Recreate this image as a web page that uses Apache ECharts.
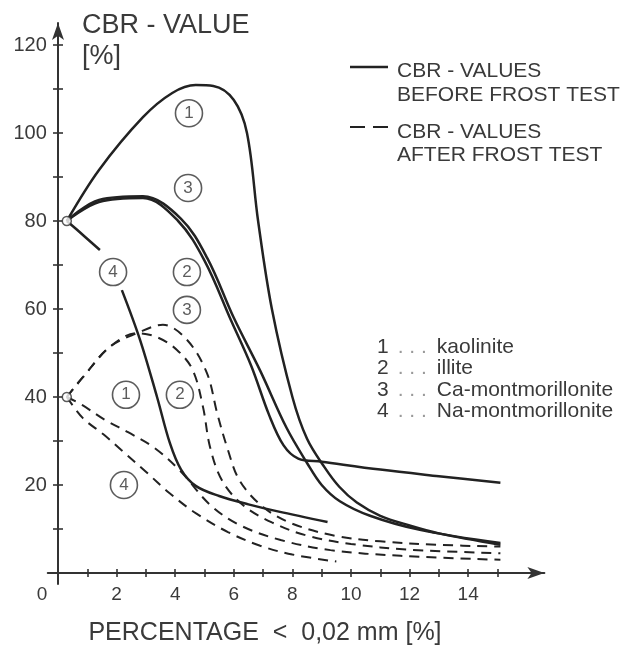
<!DOCTYPE html>
<html>
<head>
<meta charset="utf-8">
<script src="https://cdn.jsdelivr.net/npm/echarts@6/dist/echarts.min.js"></script>
<style>
  html, body { margin: 0; padding: 0; background: #fff; }
  #chart { width: 631px; height: 649px; }
</style>
</head>
<body>
<div id="chart"></div>
<script>
// Axis ticks and labels
const xTickValues = [1, 2, 3, 4, 5, 6, 7, 8, 9, 10, 11, 12, 13, 14, 15];
const xLabelValues = [0, 2, 4, 6, 8, 10, 12, 14];
const yTickValues = [10, 20, 30, 40, 50, 60, 70, 80, 90, 100, 110, 120];
const yLabelValues = [20, 40, 60, 80, 100, 120];

// CBR values before frost test (solid) — [percentage < 0.02 mm, CBR %]
const kaoliniteBefore = [[0.3, 80], [1.4, 91.6], [2.9, 103.6], [3.9, 109.1], [4.7, 110.9], [5.3, 110.7], [6.0, 107.5], [6.45, 100], [6.83, 80], [7.3, 60], [8.0, 40], [8.5, 30.5], [9.1, 24], [9.6, 19.6], [10.2, 16], [11, 13], [12, 10.8], [13, 9], [15.1, 6.4]];
const illiteBefore = [[0.3, 80], [1.4, 84.3], [2.9, 85.2], [4.1, 80], [5.0, 71], [5.9, 57.5], [6.6, 47], [7.2, 36], [7.7, 29], [8.2, 26], [9, 25.3], [11, 23.5], [13, 22], [15.1, 20.5]];
const caMontBefore = [[0.3, 80], [1.4, 84.8], [2.9, 85.6], [4.2, 80.5], [5.1, 71.5], [6.0, 58], [6.9, 46], [7.8, 33], [8.5, 25], [9.0, 20], [9.62, 16.3], [10.65, 13], [12.35, 9.8], [15.1, 6.8]];
const naMontBeforeUpper = [[0.3, 80], [0.65, 78], [1.43, 73.4]];
const naMontBeforeLower = [[2.18, 64.3], [2.8, 53], [3.38, 40], [3.82, 29.5], [4.2, 23.5], [4.7, 19.8], [5.5, 17.5], [6.5, 15.6], [7.5, 14], [9.2, 11.6]];

// CBR values after frost test (dashed)
const caMontAfter = [[0.3, 40], [0.85, 44.5], [1.77, 51.4], [2.7, 54.5], [3.58, 56.4], [4.4, 53], [5.08, 45.5], [5.43, 36.4], [5.77, 28.6], [6.2, 21], [7, 15], [8, 11.2], [9.5, 8.4], [11, 7.2], [13, 6.4], [15.1, 6]];
const illiteAfter = [[0.3, 40], [0.85, 44.5], [1.77, 51.4], [2.7, 54.5], [3.38, 53.6], [4.06, 50.7], [4.6, 46.1], [4.95, 37.7], [5.19, 28.6], [5.6, 21], [6.3, 15.5], [7.3, 11.5], [8.5, 8.5], [10, 6.6], [12, 5.3], [15.1, 4.5]];
const kaoliniteAfter = [[0.3, 40], [0.82, 38.2], [1.6, 34.8], [2.39, 32], [3.3, 28.4], [4.2, 23], [5.19, 15.5], [6.2, 10.9], [7.6, 7.5], [9.3, 5.2], [11.7, 3.9], [15.1, 3]];
const naMontAfter = [[0.3, 40], [0.85, 35.2], [1.57, 31.4], [2.15, 28], [3.0, 23], [3.8, 18.2], [4.7, 13.6], [5.8, 9.3], [6.9, 6.2], [8.0, 4.2], [9.5, 2.6]];

// Starting points of the test series
const startPoints = [[0.3, 80], [0.3, 40]];

// Circled curve numbers [x, y, number]
const curveTags = [[4.47, 104.5, '1'], [4.44, 87.5, '3'], [1.88, 68.4, '4'], [4.4, 68.4, '2'], [4.4, 59.8, '3'], [2.32, 40.5, '1'], [4.16, 40.5, '2'], [2.25, 20, '4']];

// Clay minerals
const mineralNumbers = ['1', '2', '3', '4'];
const mineralNames = ['kaolinite', 'illite', 'Ca-montmorillonite', 'Na-montmorillonite'];

const FONT = "'Liberation Sans', Arial, sans-serif";
const INK = '#222';
const TXT = '#3a3a3a';

const solidStyle = { color: INK, width: 2.5, type: 'solid' };
const dashStyle = { color: INK, width: 2, type: [10, 7] };

function curve(data, style) {
  return {
    type: 'line', data: data, smooth: 0.35, showSymbol: false, silent: true,
    lineStyle: style, z: 3, animation: false
  };
}

const xBase = {
  type: 'value', min: -0.35, max: 16.6, position: 'bottom',
  splitLine: { show: false }
};
const yBase = {
  type: 'value', min: -2.5, max: 125, position: 'left',
  splitLine: { show: false }
};

const option = {
  backgroundColor: '#fff',
  animation: false,
  grid: { left: 47.75, right: 86.65, top: 23, bottom: 65, outerBoundsMode: 'none' },
  xAxis: [
    Object.assign({}, xBase, {
      axisLine: { onZero: true, onZeroAxisIndex: 0, symbol: ['none', 'arrow'], symbolSize: [9, 17], lineStyle: { color: '#333', width: 2 } },
      axisTick: { show: true, customValues: xTickValues, inside: false, length: 4, lineStyle: { color: '#333', width: 1.6 } },
      axisLabel: {
        show: true, customValues: xLabelValues, margin: 1, fontSize: 19, fontFamily: FONT, color: TXT,
        formatter: function (v) { return v === 0 ? '{z|0}' : String(v); },
        rich: { z: { padding: [0, 32, 0, 0], fontSize: 19, fontFamily: FONT, color: TXT } }
      }
    }),
    Object.assign({}, xBase, {
      axisLine: { onZero: true, onZeroAxisIndex: 0, symbol: 'none', lineStyle: { opacity: 0 } },
      axisTick: { show: true, customValues: xTickValues, inside: true, length: 4, lineStyle: { color: '#333', width: 1.6 } },
      axisLabel: { show: false }
    })
  ],
  yAxis: [
    Object.assign({}, yBase, {
      axisLine: { onZero: true, onZeroAxisIndex: 0, symbol: ['none', 'arrow'], symbolSize: [9, 17], lineStyle: { color: '#333', width: 2 } },
      axisTick: { show: true, customValues: yTickValues, inside: false, length: 5, lineStyle: { color: '#333', width: 1.6 } },
      axisLabel: { show: true, customValues: yLabelValues, margin: 1, fontSize: 20, fontFamily: FONT, color: TXT }
    }),
    Object.assign({}, yBase, {
      axisLine: { onZero: true, onZeroAxisIndex: 0, symbol: 'none', lineStyle: { opacity: 0 } },
      axisTick: { show: true, customValues: yTickValues, inside: true, length: 5, lineStyle: { color: '#333', width: 1.6 } },
      axisLabel: { show: false }
    })
  ],
  series: [
    curve(kaoliniteBefore, solidStyle),
    curve(illiteBefore, solidStyle),
    curve(caMontBefore, solidStyle),
    curve(naMontBeforeUpper, solidStyle),
    curve(naMontBeforeLower, solidStyle),
    curve(caMontAfter, dashStyle),
    curve(illiteAfter, dashStyle),
    curve(kaoliniteAfter, dashStyle),
    curve(naMontAfter, dashStyle),
    {
      type: 'scatter', data: startPoints, symbol: 'circle', symbolSize: 9, silent: true, z: 6,
      itemStyle: { color: '#fff', borderColor: '#333', borderWidth: 1.5 }
    },
    {
      type: 'scatter', data: curveTags, symbol: 'circle', symbolSize: 27, silent: true, z: 5,
      itemStyle: { color: '#fff', borderColor: '#333', borderWidth: 1.6 },
      label: {
        show: true, position: 'inside', fontSize: 17, fontFamily: FONT, color: '#333',
        formatter: function (p) { return p.value[2]; }
      }
    }
  ],
  graphic: [
    // axis titles
    { type: 'text', x: 82, y: 26, style: { text: 'CBR - VALUE', font: '27px ' + FONT, fill: TXT, verticalAlign: 'middle' } },
    { type: 'text', x: 82, y: 57, style: { text: '[%]', font: '27px ' + FONT, fill: TXT, verticalAlign: 'middle' } },
    { type: 'text', x: 265, y: 633, style: { text: 'PERCENTAGE  <  0,02 mm [%]', font: '25px ' + FONT, fill: TXT, align: 'center', verticalAlign: 'middle' } },
    // line style key
    { type: 'line', shape: { x1: 350, y1: 67, x2: 388, y2: 67 }, style: { stroke: INK, lineWidth: 2.5 } },
    { type: 'text', x: 397, y: 71, style: { text: 'CBR - VALUES', font: '21px ' + FONT, fill: TXT, verticalAlign: 'middle' } },
    { type: 'text', x: 397, y: 95, style: { text: 'BEFORE FROST TEST', font: '21px ' + FONT, fill: TXT, verticalAlign: 'middle' } },
    { type: 'line', shape: { x1: 350, y1: 127, x2: 388, y2: 127 }, style: { stroke: INK, lineWidth: 2, lineDash: [15, 8] } },
    { type: 'text', x: 397, y: 132, style: { text: 'CBR - VALUES', font: '21px ' + FONT, fill: TXT, verticalAlign: 'middle' } },
    { type: 'text', x: 397, y: 155, style: { text: 'AFTER FROST TEST', font: '21px ' + FONT, fill: TXT, verticalAlign: 'middle' } }
  ].concat(mineralNames.map(function (name, i) {
    return {
      type: 'text', x: 377, y: 347 + i * 21.5,
      style: {
        text: '{n|' + mineralNumbers[i] + '}{d|. . .}{m|' + name + '}',
        verticalAlign: 'middle',
        rich: {
          n: { font: '21px ' + FONT, fill: TXT },
          d: { font: '21px ' + FONT, fill: '#999', padding: [0, 10, 0, 9] },
          m: { font: '21px ' + FONT, fill: TXT }
        }
      }
    };
  }))
};

const chart = echarts.init(document.getElementById('chart'), null, { renderer: 'canvas' });
chart.setOption(option);
</script>
</body>
</html>
